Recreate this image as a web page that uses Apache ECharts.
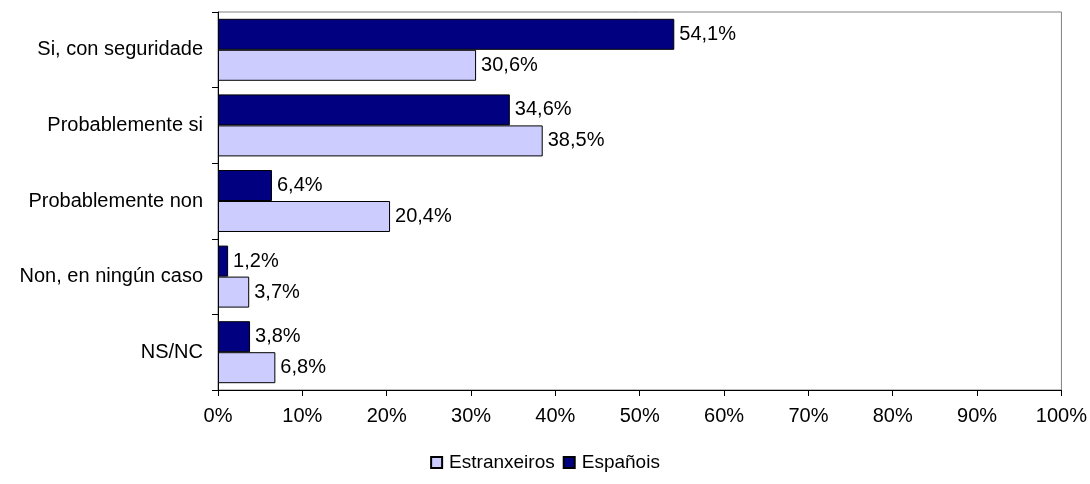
<!DOCTYPE html>
<html><head><meta charset="utf-8">
<script src="https://cdn.jsdelivr.net/npm/echarts@6/dist/echarts.min.js"></script>
<style>html,body{margin:0;padding:0;background:#fff}#c{width:1090px;height:484px}</style>
</head><body><div id="c"></div>
<script>
const categories = ['Si, con seguridade','Probablemente si','Probablemente non','Non, en ningún caso','NS/NC'];
const estranxeiros = [30.6, 38.5, 20.4, 3.7, 6.8];
const espanois = [54.1, 34.6, 6.4, 1.2, 3.8];
const seriesNames = ['Estranxeiros','Españois'];
const font = 'Liberation Sans, Arial, sans-serif';
const fmt = p => p.value.toFixed(1).replace('.', ',') + '%';
const chart = echarts.init(document.getElementById('c'));
chart.setOption({
  animation: false,
  grid: {left: 218, right: 28, top: 12, bottom: 94, show: true, borderColor: '#808080', borderWidth: 1},
  legend: {
    bottom: 7, left: 'center', itemWidth: 11, itemHeight: 11, itemGap: 8,
    textStyle: {fontFamily: font, fontSize: 19, color: '#000', padding: [0, 0, 0, 2]},
    data: seriesNames.map(n => ({name: n, icon: 'rect'}))
  },
  xAxis: {
    type: 'value', min: 0, max: 100, interval: 10,
    axisLine: {show: true, lineStyle: {color: '#000'}},
    axisTick: {show: true, length: 6, lineStyle: {color: '#000'}},
    splitLine: {show: false},
    axisLabel: {formatter: v => v + '%', fontFamily: font, fontSize: 20, color: '#000', margin: 16}
  },
  yAxis: {
    type: 'category', data: categories, inverse: true,
    axisLine: {show: true, lineStyle: {color: '#000'}},
    axisTick: {show: true, length: 6, lineStyle: {color: '#000'}},
    axisLabel: {fontFamily: font, fontSize: 20, color: '#000', margin: 15}
  },
  series: [
    {name: seriesNames[1], type: 'bar', data: espanois, barGap: '0%', barCategoryGap: '18%',
     itemStyle: {color: '#000080', borderColor: '#000', borderWidth: 1},
     label: {show: true, position: 'right', distance: 5, formatter: fmt, fontFamily: font, fontSize: 20, color: '#000'}},
    {name: seriesNames[0], type: 'bar', data: estranxeiros, barGap: '0%', barCategoryGap: '18%',
     itemStyle: {color: '#CCCCFF', borderColor: '#000', borderWidth: 1},
     label: {show: true, position: 'right', distance: 5, formatter: fmt, fontFamily: font, fontSize: 20, color: '#000'}}
  ]
});
</script></body></html>
